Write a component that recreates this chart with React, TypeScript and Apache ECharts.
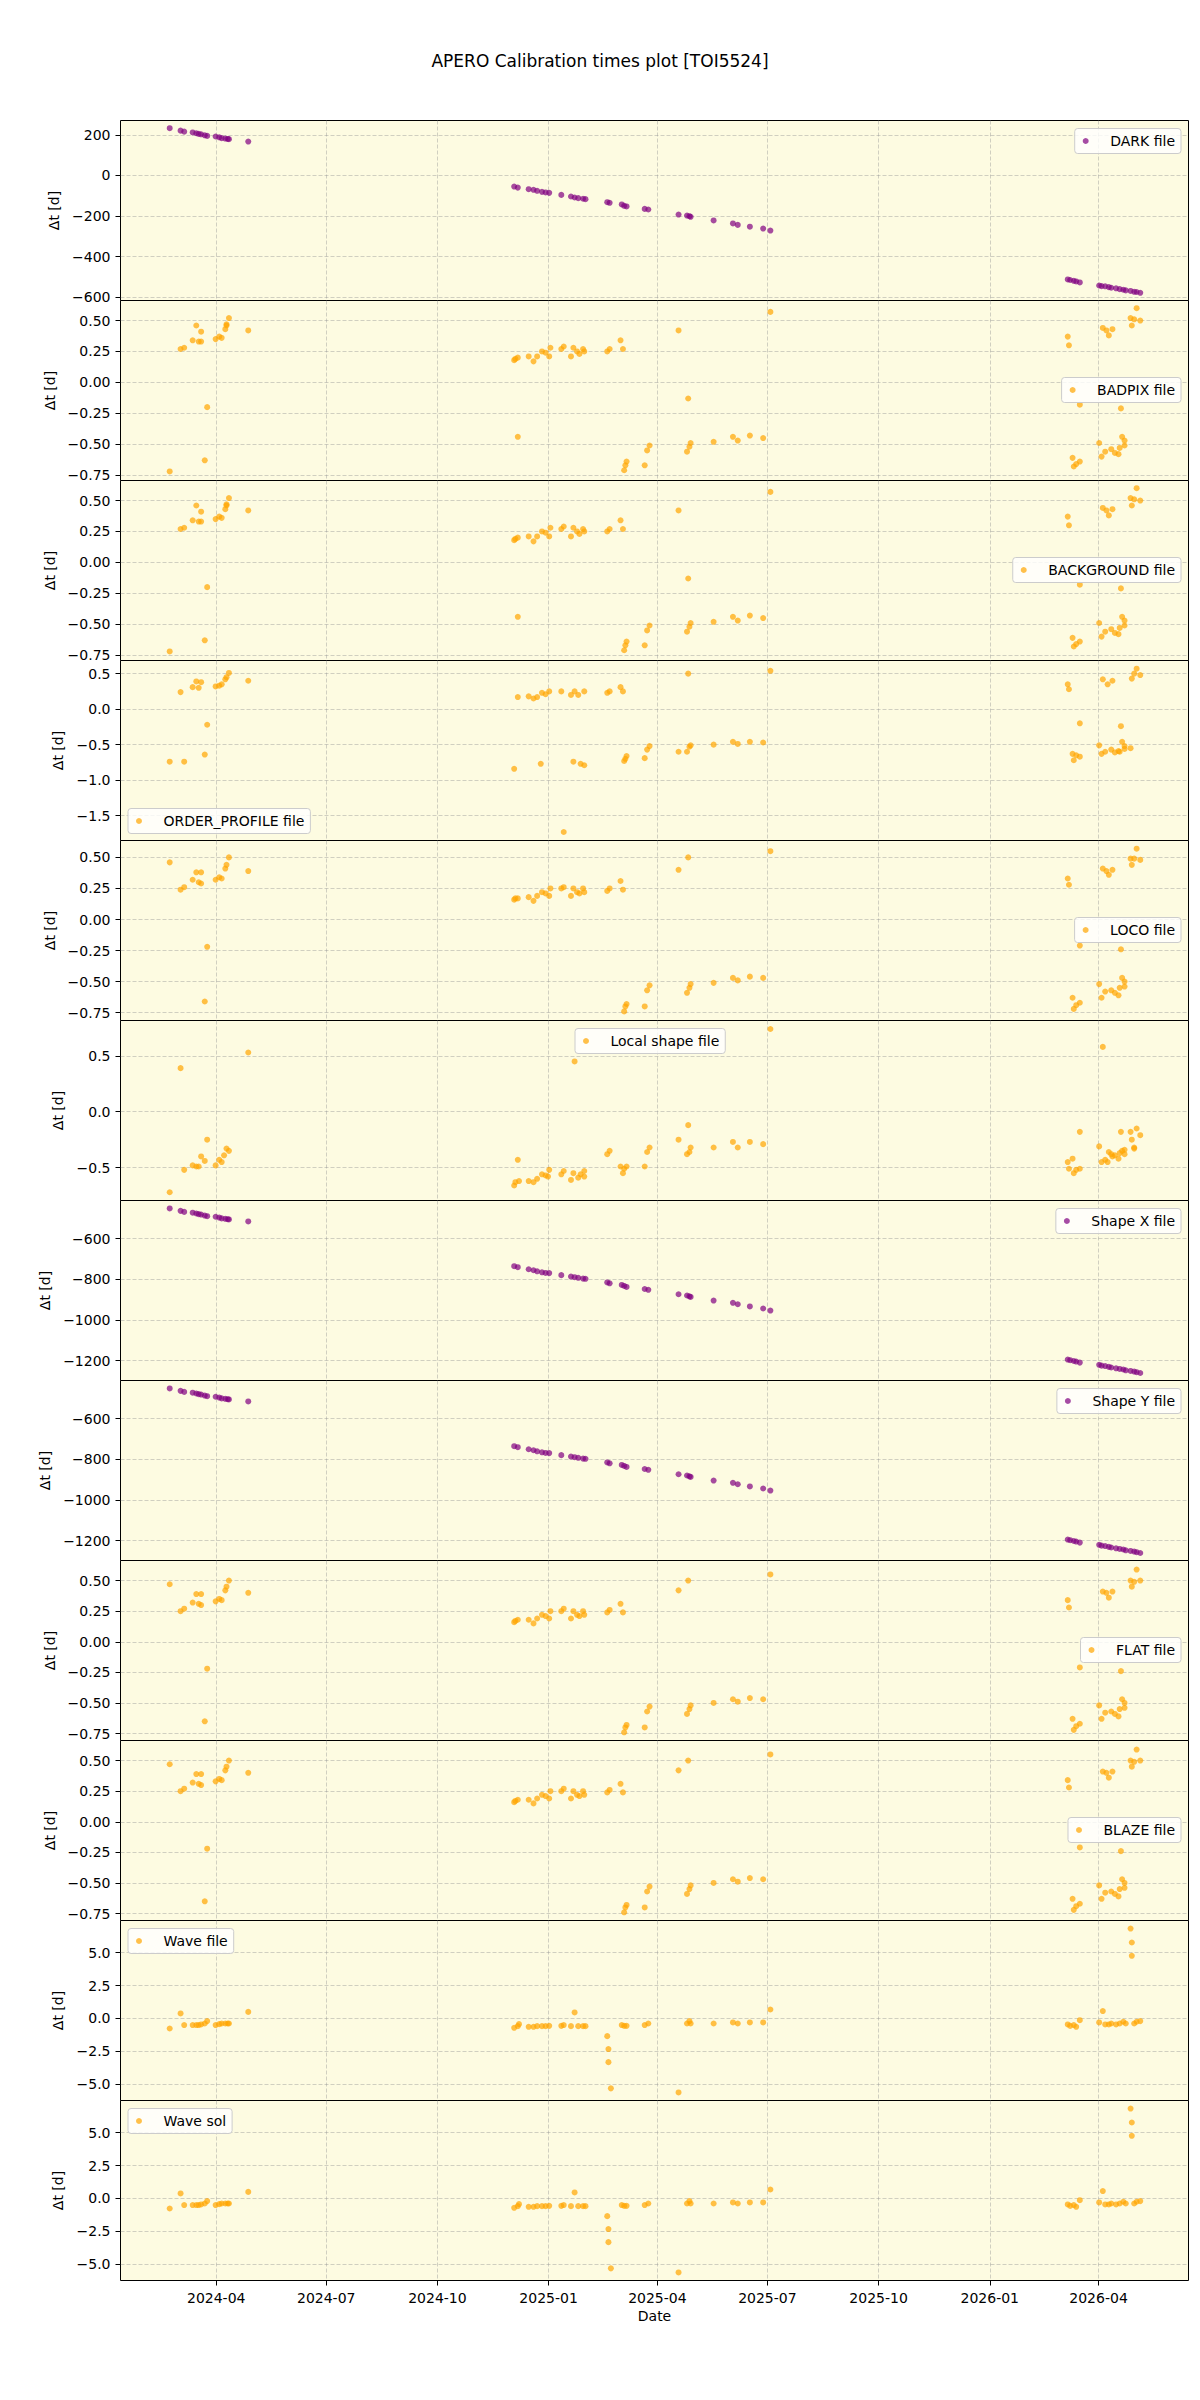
import React, { useEffect, useRef } from "react";
import * as echarts from "echarts";

type Pt = [string, number];

const TITLE = "APERO Calibration times plot [TOI5524]";
const X_RANGE = ["2024-01-12T19:00", "2026-06-14T10:00"];
const DATE_TICKS = [
  "2024-04-01", "2024-07-01", "2024-10-01", "2025-01-01", "2025-04-01",
  "2025-07-01", "2025-10-01", "2026-01-01", "2026-04-01",
];

const DARK_FILE: Pt[] = [
  ["2024-02-22", 233], ["2024-03-02", 221], ["2024-03-05", 216], ["2024-03-12", 212],
  ["2024-03-15", 208], ["2024-03-17", 205], ["2024-03-19", 203], ["2024-03-22", 198],
  ["2024-03-24", 195], ["2024-03-31", 192], ["2024-04-03", 188], ["2024-04-05", 184],
  ["2024-04-08", 182], ["2024-04-10", 180], ["2024-04-11", 179], ["2024-04-27", 167],
  ["2024-12-03", -55], ["2024-12-06", -60], ["2024-12-15", -68], ["2024-12-19", -71],
  ["2024-12-22", -76], ["2024-12-26", -81], ["2024-12-29", -84], ["2025-01-01", -86],
  ["2025-01-11", -96], ["2025-01-19", -104], ["2025-01-22", -109], ["2025-01-25", -112],
  ["2025-01-29", -115], ["2025-01-31", -117], ["2025-02-18", -132], ["2025-02-20", -135],
  ["2025-03-02", -143], ["2025-03-04", -150], ["2025-03-06", -153], ["2025-03-21", -165],
  ["2025-03-24", -168], ["2025-04-18", -193], ["2025-04-25", -198], ["2025-04-27", -201],
  ["2025-04-28", -204], ["2025-05-17", -222], ["2025-06-02", -237], ["2025-06-06", -244],
  ["2025-06-16", -253], ["2025-06-27", -262], ["2025-07-03", -272],
  ["2026-03-06", -513], ["2026-03-08", -516], ["2026-03-11", -520], ["2026-03-13", -523],
  ["2026-03-16", -528], ["2026-04-01", -543], ["2026-04-03", -546], ["2026-04-06", -547],
  ["2026-04-09", -551], ["2026-04-11", -554], ["2026-04-15", -557], ["2026-04-18", -561],
  ["2026-04-21", -564], ["2026-04-23", -567], ["2026-04-27", -570], ["2026-04-30", -574],
  ["2026-05-02", -575], ["2026-05-05", -579],
];

const BADPIX_FILE: Pt[] = [
  ["2024-02-22", -0.72], ["2024-03-02", 0.27], ["2024-03-05", 0.28], ["2024-03-12", 0.34],
  ["2024-03-15", 0.46], ["2024-03-17", 0.33], ["2024-03-19", 0.33], ["2024-03-19", 0.41],
  ["2024-03-22", -0.63], ["2024-03-24", -0.2], ["2024-03-31", 0.35], ["2024-04-03", 0.37],
  ["2024-04-05", 0.36], ["2024-04-08", 0.43], ["2024-04-09", 0.47], ["2024-04-09", 0.46],
  ["2024-04-11", 0.52], ["2024-04-27", 0.42],
  ["2024-12-03", 0.18], ["2024-12-04", 0.19], ["2024-12-06", 0.2], ["2024-12-06", -0.44],
  ["2024-12-15", 0.21], ["2024-12-19", 0.17], ["2024-12-22", 0.21], ["2024-12-26", 0.25],
  ["2024-12-29", 0.24], ["2025-01-01", 0.21], ["2025-01-02", 0.28], ["2025-01-11", 0.27],
  ["2025-01-13", 0.29], ["2025-01-19", 0.21], ["2025-01-21", 0.28], ["2025-01-24", 0.25],
  ["2025-01-26", 0.23], ["2025-01-29", 0.27], ["2025-01-30", 0.25], ["2025-02-18", 0.25],
  ["2025-02-20", 0.27], ["2025-03-01", 0.34], ["2025-03-03", 0.27], ["2025-03-04", -0.71],
  ["2025-03-05", -0.67], ["2025-03-06", -0.64], ["2025-03-21", -0.67], ["2025-03-23", -0.55],
  ["2025-03-25", -0.51], ["2025-04-18", 0.42], ["2025-04-25", -0.56], ["2025-04-26", -0.13],
  ["2025-04-27", -0.52], ["2025-04-28", -0.49], ["2025-05-17", -0.48], ["2025-06-02", -0.44],
  ["2025-06-06", -0.47], ["2025-06-16", -0.43], ["2025-06-27", -0.45], ["2025-07-03", 0.57],
  ["2026-03-06", 0.37], ["2026-03-07", 0.3], ["2026-03-10", -0.61], ["2026-03-11", -0.68],
  ["2026-03-13", -0.66], ["2026-03-16", -0.64], ["2026-03-16", -0.18], ["2026-04-01", -0.49],
  ["2026-04-03", -0.6], ["2026-04-04", 0.44], ["2026-04-06", -0.56], ["2026-04-07", 0.42],
  ["2026-04-09", 0.38], ["2026-04-11", -0.54], ["2026-04-12", 0.43], ["2026-04-14", -0.57],
  ["2026-04-17", -0.58], ["2026-04-18", -0.53], ["2026-04-19", -0.21], ["2026-04-20", -0.44],
  ["2026-04-22", -0.51], ["2026-04-22", -0.47], ["2026-04-27", 0.52], ["2026-04-28", 0.46],
  ["2026-04-30", 0.51], ["2026-05-02", 0.6], ["2026-05-05", 0.5],
];

// The background solutions were produced alongside the bad-pixel maps
const BACKGROUND_FILE: Pt[] = BADPIX_FILE;

const ORDER_PROFILE_FILE: Pt[] = [
  ["2024-02-22", -0.74], ["2024-03-02", 0.24], ["2024-03-05", -0.74], ["2024-03-12", 0.31],
  ["2024-03-15", 0.39], ["2024-03-17", 0.3], ["2024-03-19", 0.38], ["2024-03-22", -0.64],
  ["2024-03-24", -0.22], ["2024-03-31", 0.32], ["2024-04-03", 0.33], ["2024-04-05", 0.35],
  ["2024-04-08", 0.42], ["2024-04-09", 0.45], ["2024-04-11", 0.51], ["2024-04-27", 0.4],
  ["2024-12-03", -0.84], ["2024-12-06", 0.17], ["2024-12-15", 0.18], ["2024-12-19", 0.15],
  ["2024-12-22", 0.17], ["2024-12-25", -0.77], ["2024-12-26", 0.23], ["2024-12-29", 0.21],
  ["2025-01-01", 0.25], ["2025-01-11", 0.25], ["2025-01-13", -1.73], ["2025-01-19", 0.2],
  ["2025-01-21", -0.74], ["2025-01-22", 0.25], ["2025-01-25", 0.2], ["2025-01-27", -0.77],
  ["2025-01-30", -0.79], ["2025-01-30", 0.25], ["2025-02-18", 0.23], ["2025-02-20", 0.25],
  ["2025-03-01", 0.31], ["2025-03-03", 0.25], ["2025-03-04", -0.73], ["2025-03-05", -0.7],
  ["2025-03-06", -0.66], ["2025-03-21", -0.69], ["2025-03-23", -0.57], ["2025-03-25", -0.52],
  ["2025-04-18", -0.6], ["2025-04-25", -0.6], ["2025-04-26", 0.5], ["2025-04-27", -0.53],
  ["2025-04-28", -0.51], ["2025-05-17", -0.5], ["2025-06-02", -0.46], ["2025-06-06", -0.49],
  ["2025-06-16", -0.46], ["2025-06-27", -0.47], ["2025-07-03", 0.54],
  ["2026-03-06", 0.35], ["2026-03-07", 0.28], ["2026-03-10", -0.63], ["2026-03-11", -0.72],
  ["2026-03-13", -0.65], ["2026-03-16", -0.67], ["2026-03-16", -0.2], ["2026-04-01", -0.51],
  ["2026-04-03", -0.63], ["2026-04-04", 0.42], ["2026-04-06", -0.6], ["2026-04-08", 0.35],
  ["2026-04-11", -0.57], ["2026-04-12", 0.4], ["2026-04-14", -0.61], ["2026-04-17", -0.59],
  ["2026-04-18", -0.6], ["2026-04-19", -0.24], ["2026-04-20", -0.46], ["2026-04-22", -0.52],
  ["2026-04-22", -0.56], ["2026-04-27", -0.55], ["2026-04-28", 0.43], ["2026-04-30", 0.5],
  ["2026-05-02", 0.57], ["2026-05-05", 0.48],
];

const LOCO_FILE: Pt[] = [
  ["2024-02-22", 0.46], ["2024-03-02", 0.24], ["2024-03-05", 0.26], ["2024-03-12", 0.32],
  ["2024-03-15", 0.38], ["2024-03-17", 0.3], ["2024-03-19", 0.38], ["2024-03-19", 0.29],
  ["2024-03-22", -0.66], ["2024-03-24", -0.22], ["2024-03-31", 0.32], ["2024-04-03", 0.34],
  ["2024-04-05", 0.33], ["2024-04-08", 0.41], ["2024-04-09", 0.44], ["2024-04-11", 0.5],
  ["2024-04-27", 0.39],
  ["2024-12-03", 0.16], ["2024-12-04", 0.17], ["2024-12-06", 0.17], ["2024-12-15", 0.18],
  ["2024-12-19", 0.15], ["2024-12-22", 0.19], ["2024-12-26", 0.22], ["2024-12-29", 0.21],
  ["2025-01-01", 0.19], ["2025-01-02", 0.25], ["2025-01-11", 0.25], ["2025-01-13", 0.26],
  ["2025-01-19", 0.19], ["2025-01-21", 0.25], ["2025-01-24", 0.22], ["2025-01-26", 0.21],
  ["2025-01-29", 0.25], ["2025-01-30", 0.22], ["2025-02-18", 0.23], ["2025-02-20", 0.25],
  ["2025-03-01", 0.31], ["2025-03-03", 0.24], ["2025-03-04", -0.74], ["2025-03-05", -0.7],
  ["2025-03-06", -0.68], ["2025-03-21", -0.7], ["2025-03-23", -0.57], ["2025-03-25", -0.53],
  ["2025-04-18", 0.4], ["2025-04-25", -0.59], ["2025-04-26", 0.5], ["2025-04-27", -0.55],
  ["2025-04-28", -0.52], ["2025-05-17", -0.51], ["2025-06-02", -0.47], ["2025-06-06", -0.49],
  ["2025-06-16", -0.46], ["2025-06-27", -0.47], ["2025-07-03", 0.55],
  ["2026-03-06", 0.33], ["2026-03-07", 0.28], ["2026-03-10", -0.63], ["2026-03-11", -0.72],
  ["2026-03-13", -0.69], ["2026-03-16", -0.67], ["2026-03-16", -0.21], ["2026-04-01", -0.52],
  ["2026-04-03", -0.63], ["2026-04-04", 0.41], ["2026-04-06", -0.58], ["2026-04-07", 0.39],
  ["2026-04-09", 0.36], ["2026-04-11", -0.57], ["2026-04-12", 0.4], ["2026-04-14", -0.59],
  ["2026-04-17", -0.61], ["2026-04-18", -0.55], ["2026-04-19", -0.24], ["2026-04-20", -0.47],
  ["2026-04-22", -0.54], ["2026-04-22", -0.5], ["2026-04-27", 0.49], ["2026-04-28", 0.44],
  ["2026-04-30", 0.49], ["2026-05-02", 0.57], ["2026-05-05", 0.48],
];

const LOCAL_SHAPE_FILE: Pt[] = [
  ["2024-02-22", -0.72], ["2024-03-02", 0.39], ["2024-03-05", -0.52], ["2024-03-12", -0.48],
  ["2024-03-15", -0.49], ["2024-03-17", -0.49], ["2024-03-19", -0.4], ["2024-03-22", -0.44],
  ["2024-03-24", -0.25], ["2024-03-31", -0.48], ["2024-04-03", -0.43], ["2024-04-05", -0.45],
  ["2024-04-07", -0.39], ["2024-04-09", -0.33], ["2024-04-11", -0.35], ["2024-04-27", 0.53],
  ["2024-12-03", -0.66], ["2024-12-04", -0.63], ["2024-12-06", -0.43], ["2024-12-07", -0.62],
  ["2024-12-15", -0.62], ["2024-12-19", -0.63], ["2024-12-22", -0.6], ["2024-12-26", -0.56],
  ["2024-12-29", -0.57], ["2024-12-31", -0.58], ["2025-01-01", -0.52], ["2025-01-11", -0.56],
  ["2025-01-13", -0.53], ["2025-01-19", -0.61], ["2025-01-21", -0.55], ["2025-01-22", 0.45],
  ["2025-01-25", -0.59], ["2025-01-27", -0.56], ["2025-01-30", -0.53], ["2025-01-30", -0.58],
  ["2025-02-18", -0.38], ["2025-02-20", -0.35], ["2025-03-01", -0.49], ["2025-03-03", -0.55],
  ["2025-03-04", -0.51], ["2025-03-06", -0.49], ["2025-03-21", -0.49], ["2025-03-23", -0.36],
  ["2025-03-25", -0.32], ["2025-04-18", -0.25], ["2025-04-25", -0.38], ["2025-04-26", -0.12],
  ["2025-04-27", -0.36], ["2025-04-28", -0.32], ["2025-05-17", -0.32], ["2025-06-02", -0.27],
  ["2025-06-06", -0.32], ["2025-06-16", -0.27], ["2025-06-27", -0.29], ["2025-07-03", 0.74],
  ["2026-03-06", -0.45], ["2026-03-07", -0.51], ["2026-03-10", -0.42], ["2026-03-11", -0.55],
  ["2026-03-13", -0.52], ["2026-03-16", -0.51], ["2026-03-16", -0.18], ["2026-04-01", -0.31],
  ["2026-04-03", -0.45], ["2026-04-04", 0.58], ["2026-04-06", -0.43], ["2026-04-08", -0.45],
  ["2026-04-09", -0.36], ["2026-04-11", -0.38], ["2026-04-12", -0.4], ["2026-04-14", -0.39],
  ["2026-04-17", -0.42], ["2026-04-18", -0.37], ["2026-04-19", -0.18], ["2026-04-20", -0.35],
  ["2026-04-22", -0.38], ["2026-04-22", -0.34], ["2026-04-27", -0.18], ["2026-04-28", -0.25],
  ["2026-04-30", -0.33], ["2026-04-30", -0.32], ["2026-05-02", -0.15], ["2026-05-05", -0.21],
];

const SHAPE_X_FILE: Pt[] = [
  ["2024-02-22", -452], ["2024-03-02", -464], ["2024-03-05", -469], ["2024-03-12", -473],
  ["2024-03-15", -477], ["2024-03-17", -480], ["2024-03-19", -482], ["2024-03-22", -487],
  ["2024-03-24", -490], ["2024-03-31", -493], ["2024-04-03", -497], ["2024-04-05", -501],
  ["2024-04-08", -503], ["2024-04-10", -505], ["2024-04-11", -506], ["2024-04-27", -516],
  ["2024-12-03", -736], ["2024-12-06", -741], ["2024-12-15", -751], ["2024-12-19", -756],
  ["2024-12-22", -761], ["2024-12-26", -766], ["2024-12-29", -769], ["2025-01-01", -770],
  ["2025-01-11", -780], ["2025-01-19", -787], ["2025-01-22", -790], ["2025-01-25", -793],
  ["2025-01-29", -797], ["2025-01-31", -798], ["2025-02-18", -816], ["2025-02-20", -820],
  ["2025-03-02", -828], ["2025-03-04", -833], ["2025-03-06", -838], ["2025-03-21", -848],
  ["2025-03-24", -852], ["2025-04-18", -874], ["2025-04-25", -880], ["2025-04-27", -884],
  ["2025-04-28", -887], ["2025-05-17", -905], ["2025-06-02", -916], ["2025-06-06", -923],
  ["2025-06-16", -934], ["2025-06-27", -944], ["2025-07-03", -954],
  ["2026-03-06", -1195], ["2026-03-08", -1198], ["2026-03-11", -1202], ["2026-03-13", -1205],
  ["2026-03-16", -1210], ["2026-04-01", -1221], ["2026-04-03", -1225], ["2026-04-06", -1227],
  ["2026-04-09", -1231], ["2026-04-11", -1234], ["2026-04-15", -1238], ["2026-04-18", -1241],
  ["2026-04-21", -1244], ["2026-04-23", -1248], ["2026-04-27", -1251], ["2026-04-30", -1254],
  ["2026-05-02", -1257], ["2026-05-05", -1261],
];

// Shape Y files are produced in the same run as the Shape X files
const SHAPE_Y_FILE: Pt[] = SHAPE_X_FILE;

const FLAT_FILE: Pt[] = [
  ["2024-02-22", 0.47], ["2024-03-02", 0.25], ["2024-03-05", 0.27], ["2024-03-12", 0.32],
  ["2024-03-15", 0.39], ["2024-03-17", 0.31], ["2024-03-19", 0.39], ["2024-03-19", 0.3],
  ["2024-03-22", -0.65], ["2024-03-24", -0.22], ["2024-03-31", 0.33], ["2024-04-03", 0.35],
  ["2024-04-05", 0.34], ["2024-04-08", 0.42], ["2024-04-09", 0.45], ["2024-04-11", 0.5],
  ["2024-04-27", 0.4],
  ["2024-12-03", 0.16], ["2024-12-04", 0.17], ["2024-12-06", 0.18], ["2024-12-15", 0.18],
  ["2024-12-19", 0.15], ["2024-12-22", 0.19], ["2024-12-26", 0.22], ["2024-12-29", 0.21],
  ["2025-01-01", 0.19], ["2025-01-02", 0.25], ["2025-01-11", 0.25], ["2025-01-13", 0.27],
  ["2025-01-19", 0.19], ["2025-01-21", 0.25], ["2025-01-24", 0.22], ["2025-01-26", 0.21],
  ["2025-01-29", 0.25], ["2025-01-30", 0.22], ["2025-02-18", 0.24], ["2025-02-20", 0.26],
  ["2025-03-01", 0.31], ["2025-03-03", 0.24], ["2025-03-04", -0.74], ["2025-03-05", -0.7],
  ["2025-03-06", -0.68], ["2025-03-21", -0.7], ["2025-03-23", -0.57], ["2025-03-25", -0.53],
  ["2025-04-18", 0.42], ["2025-04-25", -0.59], ["2025-04-26", 0.5], ["2025-04-27", -0.55],
  ["2025-04-28", -0.52], ["2025-05-17", -0.5], ["2025-06-02", -0.47], ["2025-06-06", -0.49],
  ["2025-06-16", -0.46], ["2025-06-27", -0.47], ["2025-07-03", 0.55],
  ["2026-03-06", 0.34], ["2026-03-07", 0.28], ["2026-03-10", -0.63], ["2026-03-11", -0.72],
  ["2026-03-13", -0.69], ["2026-03-16", -0.67], ["2026-03-16", -0.21], ["2026-04-01", -0.52],
  ["2026-04-03", -0.63], ["2026-04-04", 0.41], ["2026-04-06", -0.58], ["2026-04-07", 0.4],
  ["2026-04-09", 0.36], ["2026-04-11", -0.57], ["2026-04-12", 0.41], ["2026-04-14", -0.59],
  ["2026-04-17", -0.61], ["2026-04-18", -0.55], ["2026-04-19", -0.24], ["2026-04-20", -0.47],
  ["2026-04-22", -0.54], ["2026-04-22", -0.5], ["2026-04-27", 0.5], ["2026-04-28", 0.45],
  ["2026-04-30", 0.49], ["2026-05-02", 0.59], ["2026-05-05", 0.5],
];

// Blaze solutions are computed from the same flat-field runs
const BLAZE_FILE: Pt[] = FLAT_FILE;

const WAVE_FILE: Pt[] = [
  ["2024-02-22", -0.76], ["2024-03-02", 0.38], ["2024-03-05", -0.5], ["2024-03-12", -0.5],
  ["2024-03-15", -0.5], ["2024-03-17", -0.5], ["2024-03-19", -0.45], ["2024-03-22", -0.38],
  ["2024-03-24", -0.2], ["2024-03-31", -0.5], ["2024-04-03", -0.43], ["2024-04-05", -0.38],
  ["2024-04-08", -0.38], ["2024-04-10", -0.38], ["2024-04-11", -0.38], ["2024-04-27", 0.5],
  ["2024-12-03", -0.71], ["2024-12-06", -0.58], ["2024-12-07", -0.43], ["2024-12-15", -0.63],
  ["2024-12-19", -0.63], ["2024-12-22", -0.58], ["2024-12-26", -0.58], ["2024-12-29", -0.58],
  ["2025-01-01", -0.56], ["2025-01-11", -0.56], ["2025-01-13", -0.5], ["2025-01-19", -0.58],
  ["2025-01-22", 0.46], ["2025-01-25", -0.58], ["2025-01-29", -0.58], ["2025-01-31", -0.58],
  ["2025-02-18", -1.34], ["2025-02-19", -2.32], ["2025-02-19", -3.31], ["2025-02-21", -5.3],
  ["2025-03-02", -0.5], ["2025-03-04", -0.56], ["2025-03-06", -0.56], ["2025-03-21", -0.5],
  ["2025-03-24", -0.38], ["2025-04-18", -5.61], ["2025-04-25", -0.38], ["2025-04-27", -0.2],
  ["2025-04-28", -0.38], ["2025-05-17", -0.38], ["2025-06-02", -0.3], ["2025-06-06", -0.38],
  ["2025-06-16", -0.3], ["2025-06-27", -0.3], ["2025-07-03", 0.68],
  ["2026-03-06", -0.45], ["2026-03-08", -0.56], ["2026-03-11", -0.5], ["2026-03-13", -0.63],
  ["2026-03-16", -0.13], ["2026-04-01", -0.3], ["2026-04-04", 0.56], ["2026-04-06", -0.45],
  ["2026-04-09", -0.45], ["2026-04-11", -0.38], ["2026-04-15", -0.45], ["2026-04-18", -0.38],
  ["2026-04-21", -0.25], ["2026-04-23", -0.38], ["2026-04-27", 6.82], ["2026-04-28", 5.76],
  ["2026-04-28", 4.75], ["2026-04-30", -0.38], ["2026-05-02", -0.25], ["2026-05-05", -0.2],
];

// The wavelength solution is taken directly from the wave file
const WAVE_SOL: Pt[] = WAVE_FILE;

const PURPLE = "#800080";
const ORANGE = "#FFA500";
const FONT = "DejaVu Sans";
const MINUS = "\u2212";

type Panel = {
  name: string;
  data: Pt[];
  color: string;
  yRange: [number, number];
  yTicks: number[];
  decimals: number;
  legend: { left?: number; right?: number; offsetTop: number };
};

const PANELS: Panel[] = [
  { name: "DARK file", data: DARK_FILE, color: PURPLE, yRange: [-617, 271], yTicks: [200, 0, -200, -400, -600], decimals: 0, legend: { right: 19, offsetTop: 8 } },
  { name: "BADPIX file", data: BADPIX_FILE, color: ORANGE, yRange: [-0.793, 0.662], yTicks: [0.5, 0.25, 0, -0.25, -0.5, -0.75], decimals: 2, legend: { right: 19, offsetTop: 77 } },
  { name: "BACKGROUND file", data: BACKGROUND_FILE, color: ORANGE, yRange: [-0.793, 0.662], yTicks: [0.5, 0.25, 0, -0.25, -0.5, -0.75], decimals: 2, legend: { right: 19, offsetTop: 77 } },
  { name: "ORDER_PROFILE file", data: ORDER_PROFILE_FILE, color: ORANGE, yRange: [-1.85, 0.685], yTicks: [0.5, 0, -0.5, -1, -1.5], decimals: 1, legend: { left: 128, offsetTop: 148 } },
  { name: "LOCO file", data: LOCO_FILE, color: ORANGE, yRange: [-0.813, 0.636], yTicks: [0.5, 0.25, 0, -0.25, -0.5, -0.75], decimals: 2, legend: { right: 19, offsetTop: 77 } },
  { name: "Local shape file", data: LOCAL_SHAPE_FILE, color: ORANGE, yRange: [-0.794, 0.816], yTicks: [0.5, 0, -0.5], decimals: 1, legend: { left: 575, offsetTop: 8 } },
  { name: "Shape X file", data: SHAPE_X_FILE, color: PURPLE, yRange: [-1298, -413], yTicks: [-600, -800, -1000, -1200], decimals: 0, legend: { right: 19, offsetTop: 8 } },
  { name: "Shape Y file", data: SHAPE_Y_FILE, color: PURPLE, yRange: [-1298, -413], yTicks: [-600, -800, -1000, -1200], decimals: 0, legend: { right: 19, offsetTop: 8 } },
  { name: "FLAT file", data: FLAT_FILE, color: ORANGE, yRange: [-0.807, 0.664], yTicks: [0.5, 0.25, 0, -0.25, -0.5, -0.75], decimals: 2, legend: { right: 19, offsetTop: 77 } },
  { name: "BLAZE file", data: BLAZE_FILE, color: ORANGE, yRange: [-0.807, 0.664], yTicks: [0.5, 0.25, 0, -0.25, -0.5, -0.75], decimals: 2, legend: { right: 19, offsetTop: 77 } },
  { name: "Wave file", data: WAVE_FILE, color: ORANGE, yRange: [-6.22, 7.43], yTicks: [5, 2.5, 0, -2.5, -5], decimals: 1, legend: { left: 128, offsetTop: 8 } },
  { name: "Wave sol", data: WAVE_SOL, color: ORANGE, yRange: [-6.22, 7.43], yTicks: [5, 2.5, 0, -2.5, -5], decimals: 1, legend: { left: 128, offsetTop: 8 } },
];

// Half-pixel offsets keep the 1px frames crisp
const PLOT_LEFT = 120.5;
const PLOT_WIDTH = 1068;
const PLOT_TOP = 120.5;
const PANEL_H = 180;

function toTime(s: string): number {
  const [y, m, d] = s.split("-").map(Number);
  return new Date(y, m - 1, d, 12).getTime();
}

function fmtNum(v: number, decimals: number): string {
  const s = Math.abs(v).toFixed(decimals);
  return (v < -1e-9 ? MINUS : "") + s;
}

function fmtDate(v: number): string {
  const d = new Date(v);
  const m = d.getMonth() + 1;
  return `${d.getFullYear()}-${m < 10 ? "0" + m : m}`;
}

function buildOption() {
  const xMin = new Date(X_RANGE[0]).getTime();
  const xMax = new Date(X_RANGE[1]).getTime();
  const xTicks = DATE_TICKS.map(toTime).map((t) => t - 12 * 3600 * 1000);
  const last = PANELS.length - 1;
  const gridLine = { show: true, lineStyle: { color: "rgba(150,150,150,0.55)", width: 0.8, type: [4, 2] as number[] } };

  const grid = PANELS.map((_, i) => ({
    left: PLOT_LEFT,
    top: PLOT_TOP + PANEL_H * i,
    width: PLOT_WIDTH,
    height: PANEL_H,
    show: true,
    backgroundColor: "#fdfbe1",
    borderColor: "#000",
    borderWidth: 1,
    outerBoundsMode: "none",
    containLabel: false,
  }));

  const xAxis = PANELS.map((_, i) => ({
    type: "value",
    gridIndex: i,
    min: xMin,
    max: xMax,
    position: "bottom",
    axisLine: { show: false, onZero: false },
    axisTick: { show: i === last, length: 5, lineStyle: { color: "#000" }, customValues: xTicks },
    axisLabel: {
      show: i === last,
      customValues: xTicks,
      formatter: (v: number) => fmtDate(v),
      color: "#000",
      fontSize: 14,
      fontFamily: FONT,
      margin: 10,
    },
    splitLine: gridLine,
    name: i === last ? "Date" : "",
    nameLocation: "middle",
    nameGap: 28,
    nameTextStyle: { color: "#000", fontSize: 14, fontFamily: FONT },
  }));

  const yAxis = PANELS.map((p, i) => ({
    type: "value",
    gridIndex: i,
    min: p.yRange[0],
    max: p.yRange[1],
    position: "left",
    axisLine: { show: false, onZero: false },
    axisTick: { show: true, length: 5, lineStyle: { color: "#000" }, customValues: p.yTicks },
    axisLabel: {
      customValues: p.yTicks,
      formatter: (v: number) => fmtNum(v, p.decimals),
      color: "#000",
      fontSize: 14,
      fontFamily: FONT,
      margin: 10,
    },
    splitLine: gridLine,
    name: "\u0394t [d]",
    nameLocation: "middle",
    nameGap: 56,
    nameTextStyle: { color: "#000", fontSize: 14, fontFamily: FONT },
  }));

  const series = PANELS.map((p, i) => ({
    type: "scatter",
    name: p.name,
    xAxisIndex: i,
    yAxisIndex: i,
    symbol: "circle",
    symbolSize: 6,
    itemStyle: { color: p.color, opacity: 0.7 },
    data: p.data.map(([d, v]) => [toTime(d), v]),
  }));

  const legend = PANELS.map((p, i) => ({
    data: [p.name],
    ...(p.legend.left !== undefined ? { left: p.legend.left } : { right: p.legend.right }),
    top: PLOT_TOP + PANEL_H * i + p.legend.offsetTop,
    orient: "horizontal",
    icon: "circle",
    itemWidth: 21,
    itemHeight: 6,
    padding: [5.5, 6, 5.5, 8],
    backgroundColor: "rgba(255,255,255,0.8)",
    borderColor: "#cccccc",
    borderWidth: 1,
    borderRadius: 3,
    itemStyle: { opacity: 0.7 },
    selectedMode: false,
    textStyle: { color: "#000", fontSize: 14, fontFamily: FONT, padding: [0, 0, 0, 9] },
  }));

  return {
    animation: false,
    backgroundColor: "#ffffff",
    title: {
      text: TITLE,
      left: "center",
      top: 47,
      textStyle: { color: "#000", fontSize: 17, fontWeight: "normal", fontFamily: FONT },
    },
    grid,
    xAxis,
    yAxis,
    legend,
    series,
  };
}

export default function App() {
  const ref = useRef<HTMLDivElement>(null);

  useEffect(() => {
    document.body.style.margin = "0";
    if (!ref.current) return;
    const chart = echarts.init(ref.current, undefined, { renderer: "svg" });
    chart.setOption(buildOption() as any);
    return () => chart.dispose();
  }, []);

  return <div ref={ref} style={{ width: 1200, height: 2400 }} />;
}
